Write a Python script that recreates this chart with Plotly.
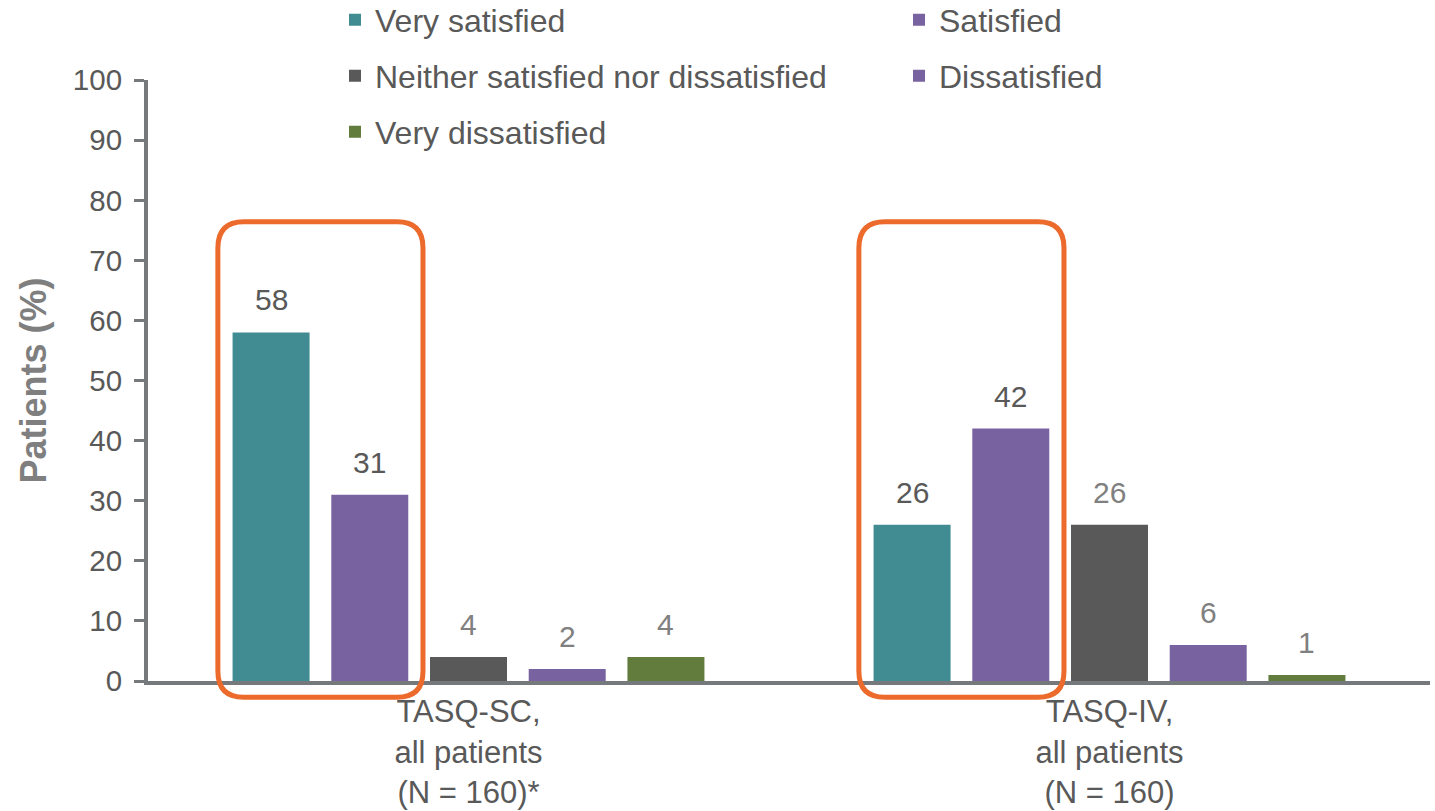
import plotly.graph_objects as go

categories = ["TASQ-SC,<br>all patients<br>(N = 160)*", "TASQ-IV,<br>all patients<br>(N = 160)"]
series_names = ["Very satisfied", "Satisfied", "Neither satisfied nor dissatisfied", "Dissatisfied", "Very dissatisfied"]
very_satisfied = [58, 26]
satisfied = [31, 42]
neither = [4, 26]
dissatisfied = [2, 6]
very_dissatisfied = [4, 1]
y_ticks = list(range(0, 101, 10))

values = [very_satisfied, satisfied, neither, dissatisfied, very_dissatisfied]
colors = ["#418c93", "#7862a0", "#595959", "#7862a0", "#627c3e"]
label_colors = ["#595959", "#595959", "#808080", "#808080", "#808080"]
legends = ["legend", "legend", "legend2", "legend2", "legend3"]

FONT = "Liberation Sans, Arial, sans-serif"
AXIS = "#76797c"

W, H = 1435, 811
L, R, T, B = 148, 5, 80, 130
pw, ph = W - L - R, H - T - B

def px_x(p):
    return (p - L) / pw

def px_y(p):
    return (H - B - p) / ph

bargap = 0.23
n_series = len(series_names)
slot = (1 - bargap) / n_series
slot_px = slot * pw / len(categories)

fig = go.Figure()
annotations = []
for k, (name, vals, col, lcol, lg) in enumerate(zip(series_names, values, colors, label_colors, legends)):
    fig.add_trace(go.Bar(
        x=categories, y=vals, name=name,
        marker=dict(color=col, line=dict(width=0)),
        legend=lg, hoverinfo="x+y+name",
    ))
    for cat, v in zip(categories, vals):
        annotations.append(dict(
            x=cat, y=v, xref="x", yref="y", text=str(v), showarrow=False,
            xanchor="center", yanchor="bottom",
            xshift=(k - (n_series - 1) / 2) * slot_px, yshift=14,
            font=dict(size=30, color=lcol, family=FONT),
        ))

# rounded highlight boxes around first two bars of each group
shapes = []
for i in range(len(categories)):
    x0d = i - (1 - bargap) / 2 - 0.006
    x1d = x0d + 2 * slot + 0.012
    x0 = (x0d + 0.5) / len(categories)
    x1 = (x1d + 0.5) / len(categories)
    y0 = -2.7 / 100
    y1 = 76.4 / 100
    rx = 26 / pw
    ry = 26 / ph
    path = (f"M{x0+rx},{y1} L{x1-rx},{y1} Q{x1},{y1} {x1},{y1-ry} "
            f"L{x1},{y0+ry} Q{x1},{y0} {x1-rx},{y0} L{x0+rx},{y0} "
            f"Q{x0},{y0} {x0},{y0+ry} L{x0},{y1-ry} Q{x0},{y1} {x0+rx},{y1} Z")
    shapes.append(dict(type="path", path=path, xref="paper", yref="paper",
                       line=dict(color="#ec6a2c", width=5), layer="above"))

legend_common = dict(orientation="h", xanchor="left", yanchor="middle",
                     font=dict(size=32, color="#595959", family=FONT),
                     entrywidth=519, entrywidthmode="pixels",
                     bgcolor="rgba(0,0,0,0)", borderwidth=0,
                     itemclick=False, itemdoubleclick=False)

fig.update_layout(
    width=W, height=H,
    margin=dict(l=L, r=R, t=T, b=B, pad=0, autoexpand=False),
    paper_bgcolor="white", plot_bgcolor="white",
    barmode="group", bargap=bargap, bargroupgap=0.22,
    font=dict(family=FONT, color="#595959"),
    showlegend=True,
    legend=dict(**legend_common, x=px_x(335), y=px_y(20)),
    legend2=dict(**legend_common, x=px_x(335), y=px_y(76)),
    legend3=dict(**legend_common, x=px_x(335), y=px_y(132)),
    shapes=shapes,
    annotations=annotations,
    xaxis=dict(showline=True, linecolor=AXIS, linewidth=4, ticks="",
               tickfont=dict(size=31, color="#595959", family=FONT),
               showgrid=False, zeroline=False),
    yaxis=dict(range=[0, 100], tickvals=y_ticks, showline=True, linecolor=AXIS, linewidth=4,
               ticks="outside", ticklen=10, tickwidth=3, tickcolor=AXIS,
               tickfont=dict(size=29.5, color="#595959", family=FONT),
               ticklabelstandoff=6,
               showgrid=False, zeroline=False,
               title=dict(text="<b>Patients (%)</b>", font=dict(size=36, color="#7f7f7f", family=FONT), standoff=16)),
)

fig.write_html("out.html")
